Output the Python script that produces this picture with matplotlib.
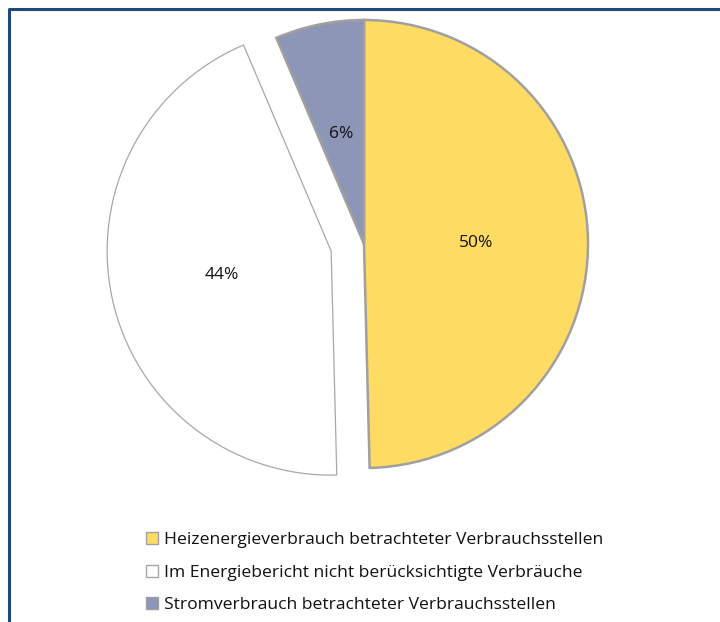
import matplotlib.pyplot as plt
from matplotlib.lines import Line2D

# Anteile am Gesamtverbrauch
labels = ['Heizenergieverbrauch betrachteter Verbrauchsstellen',
          'Im Energiebericht nicht berücksichtigte Verbräuche',
          'Stromverbrauch betrachteter Verbrauchsstellen']
shares = [49.6, 44.0, 6.4]
colors = ['#FEDC64', '#FFFFFF', '#8D96B6']
edges = ['#A0A0A0', '#A8A8A8', '#A0A0A0']
widths = [1.8, 0.9, 1.8]
explode = [0, 0.15, 0]

plt.rcParams['font.family'] = ['Open Sans', 'DejaVu Sans']

fig = plt.figure(figsize=(7.2, 6.22), dpi=100)

# Pie-Achse: Mittelpunkt (364, 244) px, Radius 224 px
cx, cy, r = 364, 244, 224
ax = fig.add_axes([(cx - r) / 720, (622 - cy - r) / 622, 2 * r / 720, 2 * r / 622])
wedges, texts, autotexts = ax.pie(shares, colors=colors, explode=explode, startangle=90,
                                  counterclock=False, autopct='%.0f%%', pctdistance=0.5,
                                  textprops={'fontsize': 12.5, 'color': '#111111'})
for w, ec, lw in zip(wedges, edges, widths):
    w.set_edgecolor(ec)
    w.set_linewidth(lw)
    w.set_clip_on(False)
ax.set_xlim(-1, 1)
ax.set_ylim(-1, 1)
ax.set_aspect('equal')

# Rahmen oben und links
fx = 8.5 / 720
fy = 1 - 9 / 622
fig.add_artist(Line2D([fx, fx, 1], [0, fy, fy], transform=fig.transFigure,
                      color='#1F497D', linewidth=2.2))

leg = fig.legend(wedges, labels, loc='upper left', bbox_to_anchor=(139 / 720, 1 - 525 / 622),
                 frameon=False, fontsize=12.6, handlelength=0.7, handleheight=0.7,
                 handletextpad=0.3, labelspacing=0.93, borderaxespad=0, labelcolor='#111111')
for h in leg.legend_handles:
    h.set_linewidth(1.0)

fig.savefig('out.png', dpi=100)
